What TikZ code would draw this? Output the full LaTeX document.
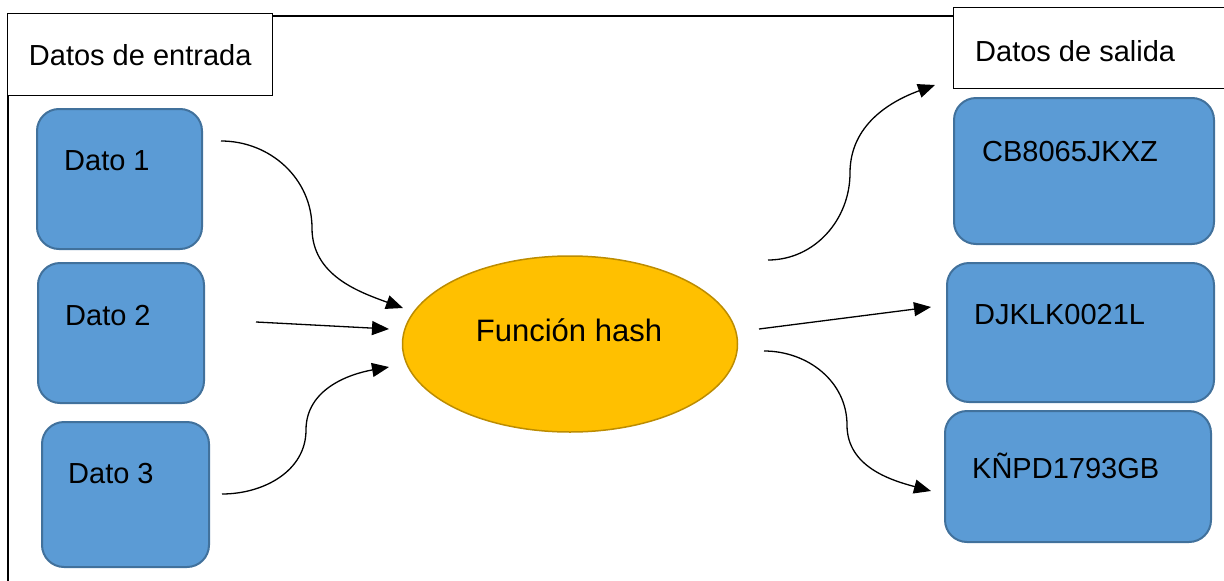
\documentclass[tikz,border=0pt]{standalone}
\usepackage{fontspec}
\setmainfont{Liberation Sans}
\definecolor{bloque}{RGB}{91, 155, 213}
\definecolor{bloqueborde}{RGB}{65, 113, 156}
\definecolor{hashfill}{RGB}{255, 192, 0}
\definecolor{hashborde}{RGB}{188, 140, 0}
\usetikzlibrary{calc,shapes,positioning,arrows.meta}

\begin{document}
\begin{tikzpicture}[x=1pt, y=-1pt,
        titulo/.style={draw, fill=white, line width=1.4pt, inner sep=0pt, anchor=north west},
        dato/.style={draw=bloqueborde, fill=bloque, line width=2pt, rounded corners=22pt, inner sep=0pt, anchor=north west},
        txt/.style={inner sep=0pt, anchor=west, font=\fontsize{29}{34}\selectfont},
        flecha/.style={line width=1.3pt, -{Triangle[length=17pt,width=14pt]}}]
    \useasboundingbox (0,0) rectangle (1224,581);
    \clip (0,0) rectangle (1224,581);

    % marco general
    \draw[line width=1.8pt] (8,16) rectangle (1260,620);

    % cabeceras
    \node[titulo, minimum width=265pt, minimum height=82pt, font=\fontsize{29}{34}\selectfont] (entrada) at (7,13) {Datos de entrada};
    \node[titulo, minimum width=300pt, minimum height=81pt] (salida) at (953,7) {};
    \node[txt] (salidatxt) at ($(salida.north west)+(22,44)$) {Datos de salida};

    % datos de entrada
    \node[dato, minimum width=165pt, minimum height=140pt] (d1) at (36,108) {};
    \node[dato, minimum width=166pt, minimum height=140pt] (d2) at (37,262) {};
    \node[dato, minimum width=167pt, minimum height=145pt] (d3) at (41,421) {};
    \node[txt] (t1) at ($(d1.north west)+(28,53)$) {Dato 1};
    \node[txt] (t2) at ($(d2.north west)+(28,54)$) {Dato 2};
    \node[txt] (t3) at ($(d3.north west)+(27,53)$) {Dato 3};

    % resultados
    \node[dato, minimum width=260pt, minimum height=146pt] (r1) at (953,97) {};
    \node[dato, minimum width=267pt, minimum height=139pt] (r2) at (946,262) {};
    \node[dato, minimum width=266pt, minimum height=131pt] (r3) at (944,410) {};
    \node[txt] (s1) at ($(r1.north west)+(29,55)$) {CB8065JKXZ};
    \node[txt] (s2) at ($(r2.north west)+(28,53)$) {DJKLK0021L};
    \node[txt] (s3) at ($(r3.north west)+(28,56)$) {KÑPD1793GB};

    % funcion hash
    \node[ellipse, draw=hashborde, fill=hashfill, line width=1.5pt, inner sep=0pt,
          minimum width=335pt, minimum height=176pt] (hash) at (570,344) {};
    \node[inner sep=0pt, font=\fontsize{31}{36}\selectfont] (hashtxt) at ($(hash.center)+(-1,-14)$) {Función hash};

    % puntos de las flechas
    \coordinate (e1) at (221,141);  \coordinate (m1) at (312,228);  \coordinate (f1) at (403,308);
    \coordinate (e2) at (256,322);  \coordinate (f2) at (389,329);
    \coordinate (e3) at (222,494);  \coordinate (m3) at (306,430);  \coordinate (f3) at (389,367);
    \coordinate (g1) at (768,260);  \coordinate (n1) at (850,173);  \coordinate (h1) at (935,85);
    \coordinate (g2) at (759,329);  \coordinate (h2) at (931,307);
    \coordinate (g3) at (764,351);  \coordinate (n3) at (847,425);  \coordinate (h3) at (931,491);

    \draw[flecha] (e1) to[out=0,in=90] (m1) to[out=-90,in=160] (f1);
    \draw[flecha] (e2) -- (f2);
    \draw[flecha] (e3) to[out=0,in=-90] (m3) to[out=90,in=190] (f3);
    \draw[flecha] (g1) to[out=0,in=-90] (n1) to[out=90,in=200] (h1);
    \draw[flecha] (g2) -- (h2);
    \draw[flecha] (g3) to[out=0,in=90] (n3) to[out=-90,in=165] (h3);
\end{tikzpicture}
\end{document}
